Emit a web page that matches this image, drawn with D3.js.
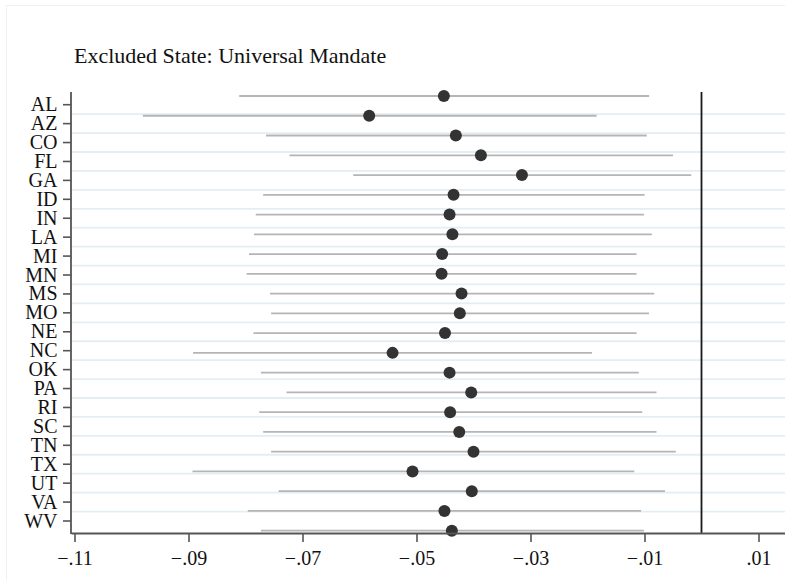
<!DOCTYPE html>
<html>
<head>
<meta charset="utf-8">
<script src="https://cdn.jsdelivr.net/npm/d3@7"></script>
<style>
  html, body { margin: 0; padding: 0; background: #fff; }
  svg { display: block; font-family: "Liberation Serif", "Times New Roman", serif; }
</style>
</head>
<body>
<svg id="chart" width="785" height="580"></svg>
<script>
// Point estimates and 95% confidence bounds, one row per excluded state
const states = ["AL","AZ","CO","FL","GA","ID","IN","LA","MI","MN","MS","MO",
                "NE","NC","OK","PA","RI","SC","TN","TX","UT","VA","WV"];
const estimates = [-0.0452,-0.0583,-0.0431,-0.0387,-0.0315,-0.0435,-0.0442,-0.0437,
                   -0.0455,-0.0456,-0.0421,-0.0424,-0.0450,-0.0542,-0.0442,-0.0404,
                   -0.0441,-0.0425,-0.0400,-0.0507,-0.0403,-0.0451,-0.0438];
const lowerCI = [-0.0811,-0.0980,-0.0764,-0.0723,-0.0611,-0.0769,-0.0782,-0.0785,
                 -0.0794,-0.0798,-0.0757,-0.0755,-0.0786,-0.0892,-0.0773,-0.0728,
                 -0.0776,-0.0769,-0.0755,-0.0893,-0.0742,-0.0796,-0.0773];
const upperCI = [-0.0092,-0.0184,-0.0096,-0.0050,-0.0018,-0.0100,-0.0101,-0.0087,
                 -0.0114,-0.0114,-0.0083,-0.0092,-0.0114,-0.0192,-0.0110,-0.0079,
                 -0.0104,-0.0079,-0.0045,-0.0118,-0.0064,-0.0106,-0.0101];
const xTicks = [-0.11,-0.09,-0.07,-0.05,-0.03,-0.01,0.01];
const titleText = "Excluded State: Universal Mandate";

const serif = "Liberation Serif, Times New Roman, serif";
const svg = d3.select("#chart");

// faint outer frame of the graph region
svg.append("path")
  .attr("d", "M6.5,585 V5.5 H790")
  .attr("fill", "none").attr("stroke", "#f0f0f0").attr("stroke-width", 1);

const plot = { left: 71, right: 790, top: 92, bottom: 533 };

// x: coefficient value, 0.01 per 57px, zero at x = 701.5
const x = d3.scaleLinear()
  .domain([(plot.left - 701.5) / 5700, (plot.right - 701.5) / 5700])
  .range([plot.left, plot.right]);

// row position of each estimate and of each category label
const idx = d3.range(states.length);
const yMark = d3.scaleLinear().domain([0, states.length - 1]).range([96, 530.7]);
const yLabel = d3.scaleLinear().domain([0, states.length - 1]).range([104.7, 521]);

// light horizontal grid between label rows
svg.append("g").selectAll("line")
  .data(d3.range(states.length - 1))
  .join("line")
  .attr("x1", plot.left).attr("x2", plot.right)
  .attr("y1", i => yLabel(i + 0.5)).attr("y2", i => yLabel(i + 0.5))
  .attr("stroke", "#e4edf1").attr("stroke-width", 1.8);

// confidence intervals
svg.append("g").selectAll("line")
  .data(idx)
  .join("line")
  .attr("x1", i => x(lowerCI[i])).attr("x2", i => x(upperCI[i]))
  .attr("y1", i => yMark(i)).attr("y2", i => yMark(i))
  .attr("stroke", "#b5b5b5").attr("stroke-width", 1.8);

// reference line at zero
svg.append("line")
  .attr("x1", x(0)).attr("x2", x(0))
  .attr("y1", plot.top).attr("y2", plot.bottom)
  .attr("stroke", "#1a1a1a").attr("stroke-width", 1.8);

// point estimates
svg.append("g").selectAll("circle")
  .data(idx)
  .join("circle")
  .attr("cx", i => x(estimates[i])).attr("cy", i => yMark(i))
  .attr("r", 6)
  .attr("fill", "#333333");

// y axis with state labels
const yAxisG = svg.append("g");
yAxisG.append("line")
  .attr("x1", plot.left).attr("x2", plot.left)
  .attr("y1", plot.top).attr("y2", plot.bottom + 1)
  .attr("stroke", "#555").attr("stroke-width", 1.8);
yAxisG.selectAll("line.tick")
  .data(idx)
  .join("line").attr("class", "tick")
  .attr("x1", plot.left - 8).attr("x2", plot.left)
  .attr("y1", i => yLabel(i)).attr("y2", i => yLabel(i))
  .attr("stroke", "#555").attr("stroke-width", 1.6);
yAxisG.selectAll("text")
  .data(idx)
  .join("text")
  .attr("x", 57.5).attr("y", i => yLabel(i) + 6.5)
  .attr("text-anchor", "end")
  .attr("font-family", serif)
  .attr("font-size", 20)
  .attr("fill", "#111")
  .text(i => states[i]);

// x axis
const xAxis = d3.axisBottom(x)
  .tickValues(xTicks)
  .tickSize(9)
  .tickSizeOuter(0)
  .tickPadding(9)
  .tickFormat(d => d3.format(".2f")(d).replace("0.", "."));
const xAxisG = svg.append("g")
  .attr("transform", `translate(0,${plot.bottom})`)
  .call(xAxis);
xAxisG.select(".domain").attr("stroke", "#555").attr("stroke-width", 1.8);
xAxisG.selectAll(".tick line").attr("stroke", "#555").attr("stroke-width", 1.6);
xAxisG.selectAll(".tick text")
  .attr("font-family", serif)
  .attr("font-size", 20).attr("fill", "#111");

// title
svg.append("text")
  .attr("x", 74).attr("y", 62.5)
  .attr("font-family", serif)
  .attr("font-size", 22)
  .attr("fill", "#111")
  .text(titleText);
</script>
</body>
</html>
